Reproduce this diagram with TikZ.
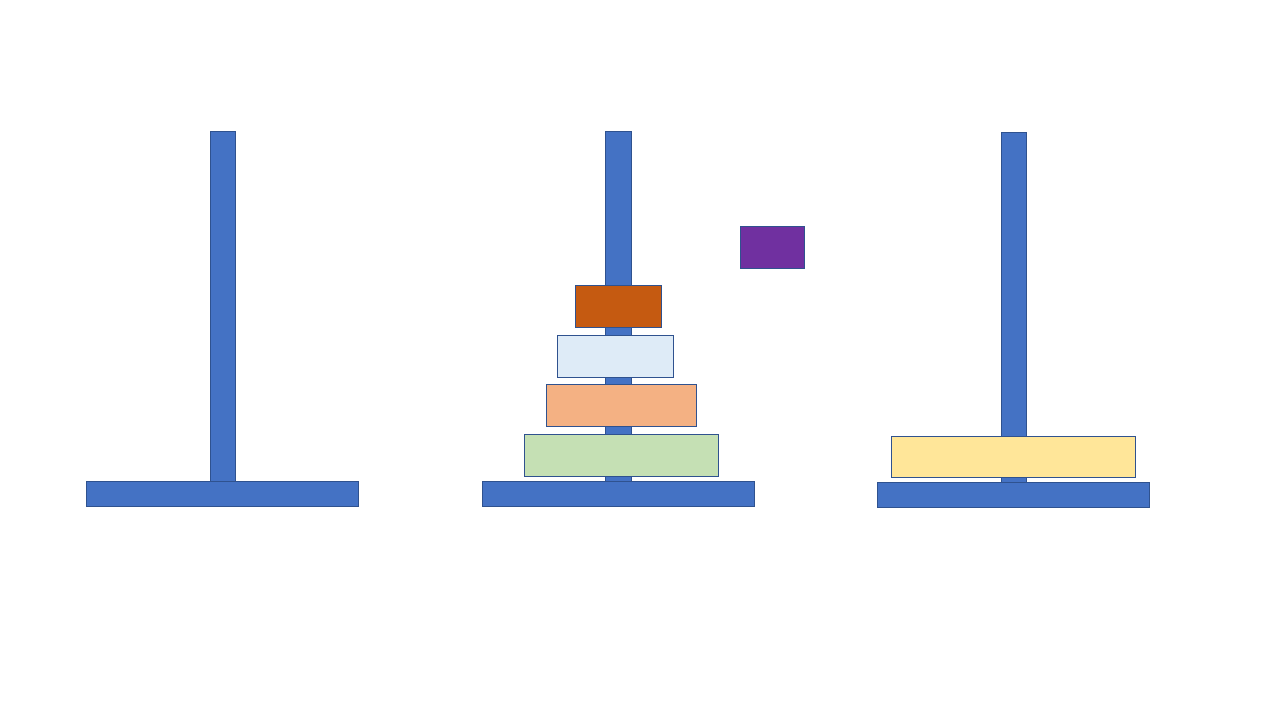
\documentclass[tikz,border=0pt]{standalone}
\definecolor{poleblue}{HTML}{4472C4}
\definecolor{edgeblue}{HTML}{2F528F}
\definecolor{diskorange}{HTML}{C55A11}
\definecolor{disklightblue}{HTML}{DEEBF7}
\definecolor{diskpeach}{HTML}{F4B183}
\definecolor{diskgreen}{HTML}{C5E0B4}
\definecolor{diskpurple}{HTML}{7030A0}
\definecolor{diskyellow}{HTML}{FFE699}
\begin{document}
\begin{tikzpicture}[x=1pt,y=-1pt,
  part/.style={draw=edgeblue,line width=0.8pt,fill=poleblue},
  disk/.style={draw=edgeblue,line width=0.8pt}]
\useasboundingbox[fill=white] (0,0) rectangle (1280,720);
% peg 1
\draw[part] (210,131) rectangle (235,481);
\draw[part] (86,481) rectangle (358,506);
% peg 2
\draw[part] (605,131) rectangle (631,481);
\draw[part] (482,481) rectangle (754,506);
% peg 3
\draw[part] (1001,132) rectangle (1026,482);
\draw[part] (877,482) rectangle (1149,507);
% disks on peg 2
\draw[disk,fill=diskorange] (575,285) rectangle (661,327);
\draw[disk,fill=disklightblue] (557,335) rectangle (673,377);
\draw[disk,fill=diskpeach] (546,384) rectangle (696,426);
\draw[disk,fill=diskgreen] (524,434) rectangle (718,476);
% moving disk
\draw[disk,fill=diskpurple] (740,226) rectangle (804,268);
% disk on peg 3
\draw[disk,fill=diskyellow] (891,436) rectangle (1135,477);
\end{tikzpicture}
\end{document}
